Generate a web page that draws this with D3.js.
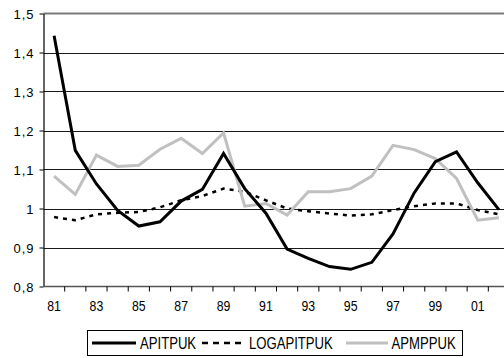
<!DOCTYPE html>
<html>
<head>
<meta charset="utf-8">
<script src="https://cdn.jsdelivr.net/npm/d3@7/dist/d3.min.js"></script>
<style>
  html, body { margin: 0; padding: 0; background: #fff; overflow: hidden; }
  svg { display: block; font-family: "Liberation Sans", Arial, sans-serif; }
</style>
</head>
<body>
<div id="chart"></div>
<script>
// Years shown on the category axis (two-digit labels)
const years = ["81","82","83","84","85","86","87","88","89","90","91",
               "92","93","94","95","96","97","98","99","00","01","02"];
const tickYears = ["81","83","85","87","89","91","93","95","97","99","01"];
const yTicks = [0.8, 0.9, 1.0, 1.1, 1.2, 1.3, 1.4, 1.5];

const apitpuk = [1.443, 1.149, 1.063, 0.995, 0.955, 0.966, 1.019, 1.049, 1.141, 1.051, 0.988,
                 0.896, 0.872, 0.851, 0.844, 0.862, 0.935, 1.040, 1.120, 1.145, 1.066, 0.997];
const logapitpuk = [0.978, 0.970, 0.985, 0.989, 0.991, 1.003, 1.021, 1.032, 1.051, 1.043, 1.021,
                    1.000, 0.993, 0.987, 0.982, 0.985, 0.996, 1.006, 1.013, 1.013, 0.996, 0.985];
const apmppuk = [1.083, 1.036, 1.137, 1.108, 1.111, 1.152, 1.180, 1.141, 1.194, 1.006, 1.013,
                 0.983, 1.043, 1.043, 1.051, 1.083, 1.162, 1.151, 1.128, 1.077, 0.970, 0.976];

const seriesNames = ["APITPUK", "LOGAPITPUK", "APMPPUK"];

const W = 504, H = 358;
const plotL = 43.5, plotT = 13.5, plotB = 286.5, plotR = 509.5;
const narrow = 0.82; // horizontal squeeze applied to axis and legend lettering

const svg = d3.select("#chart").append("svg")
  .attr("width", W).attr("height", H);

const x = d3.scaleBand().domain(years).range([plotL, plotR]);
const y = d3.scaleLinear().domain([0.8, 1.5]).range([plotB, plotT]);
const cx = d => x(d) + x.bandwidth() / 2;

const fmt = v => (Math.abs(v - 1) < 1e-9 ? "1" : d3.format(".1f")(v).replace(".", ","));

// horizontal gridlines
svg.append("g").selectAll("line")
  .data(yTicks.filter(v => v > 0.8 && v < 1.5))
  .join("line")
  .attr("x1", plotL).attr("x2", plotR)
  .attr("y1", d => Math.round(y(d)) + 0.5).attr("y2", d => Math.round(y(d)) + 0.5)
  .attr("stroke", "#1a1a1a").attr("stroke-width", 1);

// top border of the plot area
svg.append("line")
  .attr("x1", plotL).attr("x2", plotR)
  .attr("y1", plotT).attr("y2", plotT)
  .attr("stroke", "#7a7a7a").attr("stroke-width", 2);

// y axis
const yAxis = d3.axisLeft(y).tickValues(yTicks).tickFormat(fmt).tickSize(4).tickSizeOuter(0);
const gy = svg.append("g").attr("transform", `translate(${plotL},0)`).call(yAxis);
gy.select(".domain").attr("stroke", "#000").attr("stroke-width", 1.2);
gy.selectAll(".tick line").attr("stroke", "#000");
gy.selectAll(".tick text").attr("font-size", 13).attr("fill", "#000")
  .attr("font-family", "Liberation Sans, Arial, sans-serif")
  .attr("letter-spacing", 1).attr("x", -9).attr("dy", "0.36em");

// x axis: tick marks between categories, labels centred on every other year
const gx = svg.append("g").attr("transform", `translate(0,${plotB})`);
gx.append("line").attr("x1", plotL).attr("x2", plotR).attr("y1", 0).attr("y2", 0)
  .attr("stroke", "#555").attr("stroke-width", 1.6);
gx.selectAll("line.tk").data(years).join("line").attr("class", "tk")
  .attr("x1", d => x(d) + x.bandwidth()).attr("x2", d => x(d) + x.bandwidth())
  .attr("y1", 0).attr("y2", 5).attr("stroke", "#000");
gx.selectAll("text").data(tickYears).join("text")
  .attr("transform", d => `translate(${cx(d)},24.5) scale(${narrow},1)`)
  .attr("text-anchor", "middle").attr("font-size", 15).attr("fill", "#000")
  .text(d => d);

const line = d3.line().x((d, i) => cx(years[i])).y(d => y(d));

const styles = [
  { data: apitpuk, color: "#000", width: 3, dash: null },
  { data: logapitpuk, color: "#000", width: 2.5, dash: "4,5" },
  { data: apmppuk, color: "#c0c0c0", width: 3, dash: null }
];

// draw the dashed series first, then grey, then black on top
[1, 2, 0].forEach(k => {
  const s = styles[k];
  svg.append("path").datum(s.data)
    .attr("fill", "none").attr("stroke", s.color)
    .attr("stroke-width", s.width)
    .attr("stroke-dasharray", s.dash)
    .attr("stroke-linejoin", "miter")
    .attr("d", line);
});

// legend
const lg = svg.append("g");
lg.append("rect").attr("x", 87.5).attr("y", 330.5).attr("width", 375).attr("height", 25)
  .attr("fill", "#fff").attr("stroke", "#000").attr("stroke-width", 1);
const items = [
  { x1: 92, x2: 136, tx: 140 },
  { x1: 202, x2: 246, tx: 249 },
  { x1: 346, x2: 388, tx: 391.5 }
];
items.forEach((it, i) => {
  const s = styles[i];
  lg.append("line").attr("x1", it.x1).attr("x2", it.x2).attr("y1", 343).attr("y2", 343)
    .attr("stroke", s.color).attr("stroke-width", s.width)
    .attr("stroke-dasharray", s.dash ? "6,5" : null);
  lg.append("text").attr("transform", `translate(${it.tx},348.5) scale(${narrow},1)`)
    .attr("font-size", 16).attr("fill", "#000").text(seriesNames[i]);
});
</script>
</body>
</html>
